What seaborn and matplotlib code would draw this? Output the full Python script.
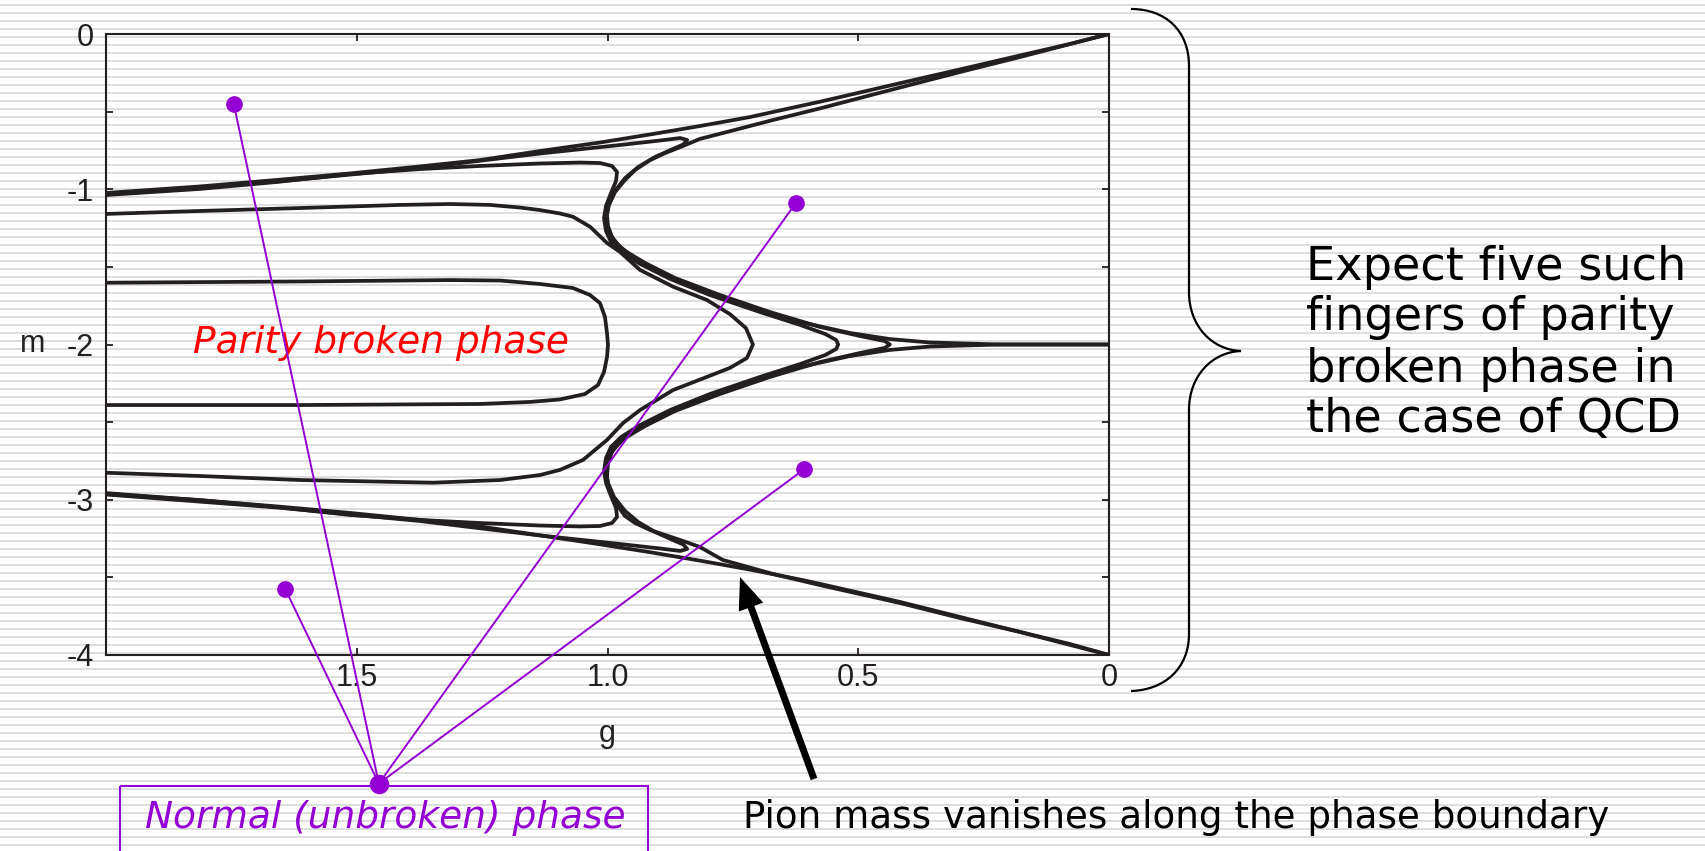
import matplotlib
matplotlib.use("Agg")
import matplotlib.pyplot as plt
import numpy as np
import seaborn as sns
from matplotlib.path import Path
from matplotlib.patches import PathPatch, FancyArrow, Rectangle

# ---------------- phase boundaries in the (g, m) plane ----------------
# outermost edges of the m=0 and m=-4 fingers
outer_top_g = [2.000, 1.813, 1.659, 1.513, 1.374, 1.254, 1.135, 1.015, 0.915, 0.816,
               0.716, 0.616, 0.576, 0.417, 0.297, 0.177, 0.078, 0.000]
outer_top_m = [-1.024, -0.982, -0.940, -0.898, -0.853, -0.812, -0.754, -0.699, -0.647, -0.593,
               -0.535, -0.464, -0.436, -0.317, -0.228, -0.138, -0.064, 0.000]
outer_bot_g = outer_top_g
outer_bot_m = [-2.957, -3.003, -3.043, -3.085, -3.130, -3.172, -3.229, -3.287, -3.338, -3.392,
               -3.450, -3.514, -3.542, -3.658, -3.755, -3.852, -3.929, -4.000]

# innermost closed finger (parity broken phase)
inner_g = [2.000, 1.613, 1.314, 1.214, 1.135, 1.069, 1.035, 1.015, 1.005, 1.001, 0.999, 1.001,
           1.007, 1.019, 1.045, 1.095, 1.155, 1.254, 1.613, 2.000]
inner_m = [-1.602, -1.594, -1.585, -1.588, -1.610, -1.636, -1.681, -1.733, -1.823, -1.926, -2.003,
           -2.081, -2.177, -2.261, -2.319, -2.354, -2.370, -2.383, -2.390, -2.390]

# second finger, tip near g = 0.71
mid_g = [2.000, 1.813, 1.613, 1.414, 1.314, 1.234, 1.174, 1.135, 1.095, 1.069, 1.035, 1.001,
         0.975, 0.935, 0.869, 0.802, 0.756, 0.724, 0.710,
         0.722, 0.756, 0.802, 0.869, 0.935, 0.969, 1.001, 1.049, 1.095, 1.135, 1.214, 1.348,
         1.613, 1.813, 2.000]
mid_m = [-1.159, -1.140, -1.121, -1.101, -1.095, -1.101, -1.118, -1.134, -1.156, -1.177, -1.241,
         -1.346, -1.404, -1.520, -1.628, -1.713, -1.804, -1.894, -2.000,
         -2.087, -2.151, -2.209, -2.293, -2.422, -2.506, -2.615, -2.744, -2.808, -2.841, -2.873,
         -2.890, -2.873, -2.847, -2.826]

# S-shaped boundary, tip near g = 0.54
s_curve_g = [2.000, 1.813, 1.659, 1.513, 1.374, 1.254, 1.135, 1.055, 1.015, 0.991, 0.981, 0.983,
             0.993, 1.003, 1.007, 1.003, 0.993, 0.973, 0.935, 0.875, 0.796, 0.696, 0.616, 0.566,
             0.544, 0.540,
             0.544, 0.566, 0.616, 0.696, 0.796, 0.875, 0.935, 0.973, 0.993, 1.003, 1.007, 1.003,
             0.993, 0.983, 0.981, 0.991, 1.015, 1.055, 1.135, 1.254, 1.374, 1.513, 1.659, 1.813,
             2.000]
s_curve_m = [-1.037, -0.998, -0.953, -0.902, -0.870, -0.850, -0.834, -0.828, -0.831, -0.850,
             -0.889, -0.947, -1.024, -1.108, -1.185, -1.269, -1.340, -1.404, -1.481, -1.578,
             -1.681, -1.791, -1.874, -1.932, -1.971, -2.000,
             -2.029, -2.068, -2.126, -2.209, -2.319, -2.422, -2.519, -2.596, -2.660, -2.731,
             -2.815, -2.892, -2.976, -3.053, -3.111, -3.150, -3.169, -3.172, -3.166, -3.150,
             -3.130, -3.098, -3.047, -3.002, -2.963]

# hooked boundary, tip near g = 0.44
hook_g = [2.000, 1.659, 1.374, 1.135, 0.975, 0.895, 0.855, 0.841, 0.849, 0.865, 0.905, 0.939,
          0.965, 0.987, 0.999, 1.003, 0.999, 0.987, 0.965, 0.925, 0.865, 0.776, 0.676, 0.576,
          0.497, 0.447, 0.437,
          0.447, 0.497, 0.576, 0.676, 0.776, 0.865, 0.925, 0.965, 0.987, 0.999, 1.003, 0.999,
          0.987, 0.965, 0.939, 0.905, 0.865, 0.849, 0.841, 0.855, 0.895, 0.975, 1.135, 1.374,
          1.659, 2.000]
hook_m = [-1.034, -0.950, -0.863, -0.770, -0.715, -0.686, -0.670, -0.683, -0.712, -0.734,
          -0.792, -0.857, -0.928, -1.018, -1.108, -1.185, -1.262, -1.333, -1.398, -1.475,
          -1.572, -1.681, -1.791, -1.887, -1.945, -1.978, -2.000,
          -2.022, -2.055, -2.113, -2.209, -2.319, -2.428, -2.525, -2.602, -2.667, -2.738,
          -2.815, -2.892, -2.982, -3.072, -3.143, -3.208, -3.266, -3.288, -3.317, -3.330,
          -3.314, -3.285, -3.230, -3.137, -3.050, -2.966]

# boundary of the normal region starting from the corners m=0 and m=-4
corner_top_g = [0.000, 0.177, 0.297, 0.417, 0.576, 0.670, 0.770, 0.816, 0.849, 0.885, 0.915,
                0.945, 0.965, 0.985, 0.997, 1.001, 0.999, 0.991, 0.975, 0.945, 0.895, 0.816,
                0.716, 0.616, 0.516, 0.437, 0.357, 0.217, 0.000]
corner_top_m = [0.000, -0.148, -0.245, -0.345, -0.479, -0.554, -0.638, -0.676, -0.721, -0.767,
                -0.812, -0.876, -0.940, -1.018, -1.101, -1.166, -1.237, -1.308, -1.372, -1.443,
                -1.533, -1.649, -1.765, -1.855, -1.926, -1.965, -1.987, -2.000, -2.000]
corner_bot_g = corner_top_g
corner_bot_m = [-4.000, -3.852, -3.762, -3.665, -3.550, -3.478, -3.388, -3.304, -3.266, -3.227,
                -3.195, -3.150, -3.105, -3.015, -2.937, -2.853, -2.763, -2.692, -2.628, -2.557,
                -2.467, -2.351, -2.235, -2.145, -2.074, -2.035, -2.013, -2.000, -2.000]

# tick labels
x_ticks = [2.0, 1.5, 1.0, 0.5, 0.0]
x_tick_labels = ["", "1.5", "1.0", "0.5", "0"]
y_ticks = [0, -1, -2, -3, -4]
y_tick_labels = ["0", "-1", "-2", "-3", "-4"]
y_minor_ticks = [-0.5, -1.5, -2.5, -3.5]

# pointers to the normal (unbroken) region
pointer_g = [1.745, 0.624, 1.643, 0.608]
pointer_m = [-0.454, -1.087, -3.572, -2.804]
hub_g, hub_m = 1.456, -4.828

# ---------------- figure ----------------
sns.set_theme(style="ticks")
plt.rcParams["font.family"] = ["Liberation Sans", "DejaVu Sans"]

W, H = 1706, 851
fig = plt.figure(figsize=(W / 100, H / 100), dpi=100)
fig.patch.set_facecolor("white")

INK = "#231f20"
PURPLE = "#9400d3"

# ruled-paper background
bg = fig.add_axes([0, 0, 1, 1], zorder=0)
bg.set_xlim(0, W)
bg.set_ylim(H, 0)
bg.axis("off")
bg.hlines(np.arange(5, H, 8), 0, W, color="#dedede", lw=1.44)

ax = fig.add_axes([106 / W, (H - 655) / H, 1003 / W, 621 / H], zorder=1)
ax.set_facecolor("none")

curves = [(outer_top_g, outer_top_m), (outer_bot_g, outer_bot_m), (inner_g, inner_m),
          (mid_g, mid_m), (s_curve_g, s_curve_m), (hook_g, hook_m),
          (corner_top_g, corner_top_m), (corner_bot_g, corner_bot_m)]
for g, m in curves:
    sns.lineplot(x=g, y=m, sort=False, estimator=None, ax=ax, color=INK, lw=2.7)

ax.set_xlim(2, 0)
ax.set_ylim(-4, 0)
ax.set_xticks(x_ticks)
ax.set_xticklabels(x_tick_labels)
ax.set_yticks(y_ticks)
ax.set_yticklabels(y_tick_labels)
ax.set_yticks(y_minor_ticks, minor=True)
ax.tick_params(which="both", direction="in", length=5, width=1.3, top=True, right=True,
               color=INK, labelcolor=INK, labelsize=22)
ax.tick_params(axis="x", pad=6)
ax.tick_params(axis="y", pad=8.5)
for sp in ax.spines.values():
    sp.set_visible(True)
    sp.set_color(INK)
    sp.set_linewidth(1.5)

ax.set_ylabel("m", rotation=0, fontsize=22, color=INK, ha="center", va="center")
ax.yaxis.set_label_coords((33 - 106) / 1003, 0.5)
ax.set_xlabel("g", fontsize=22, color=INK, va="center")
ax.xaxis.set_label_coords(0.5, (655 - 734) / 621)

ax.text(1.827, -1.99, "Parity broken phase", color="red", fontsize=27, style="italic",
        family="DejaVu Sans", ha="left", va="center")

for pg, pm in zip(pointer_g, pointer_m):
    ax.plot([hub_g, pg], [hub_m, pm], color=PURPLE, lw=1.4, clip_on=False, zorder=4)
ax.plot(pointer_g, pointer_m, "o", color=PURPLE, ms=11, clip_on=False, zorder=5)
ax.plot([hub_g], [hub_m], "o", color=PURPLE, ms=13, clip_on=False, zorder=5)

# annotation layer in pixel coordinates
ov = fig.add_axes([0, 0, 1, 1], zorder=3)
ov.set_xlim(0, W)
ov.set_ylim(H, 0)
ov.axis("off")
ov.patch.set_alpha(0)

ov.add_patch(Rectangle((120, 786), 528, 100, fill=False, ec=PURPLE, lw=1.5))
ov.text(385, 818, "Normal (unbroken) phase", color=PURPLE, fontsize=27, style="italic",
        family="DejaVu Sans", ha="center", va="center")

ov.add_patch(FancyArrow(814, 779, -74, -202, width=7, head_width=26, head_length=32,
                        length_includes_head=True, color="black", lw=0))
ov.text(743, 818, "Pion mass vanishes along the phase boundary", color="black", fontsize=26.8,
        family="DejaVu Sans", ha="left", va="center")

verts = [(1131, 9), (1165, 9), (1189, 30), (1189, 66), (1189, 292),
         (1189, 326), (1212, 350), (1241, 351),
         (1212, 352), (1189, 376), (1189, 410), (1189, 634),
         (1189, 668), (1165, 690), (1131, 691)]
codes = [Path.MOVETO, Path.CURVE4, Path.CURVE4, Path.CURVE4, Path.LINETO,
         Path.CURVE4, Path.CURVE4, Path.CURVE4,
         Path.CURVE4, Path.CURVE4, Path.CURVE4, Path.LINETO,
         Path.CURVE4, Path.CURVE4, Path.CURVE4]
ov.add_patch(PathPatch(Path(verts, codes), fill=False, ec="black", lw=1.6))

for y, line in zip([267, 318, 369, 420],
                   ["Expect five such", "fingers of parity", "broken phase in", "the case of QCD"]):
    ov.text(1306, y, line, color="black", fontsize=33.3, family="DejaVu Sans",
            ha="left", va="center")

fig.savefig("out.png", dpi=100)
